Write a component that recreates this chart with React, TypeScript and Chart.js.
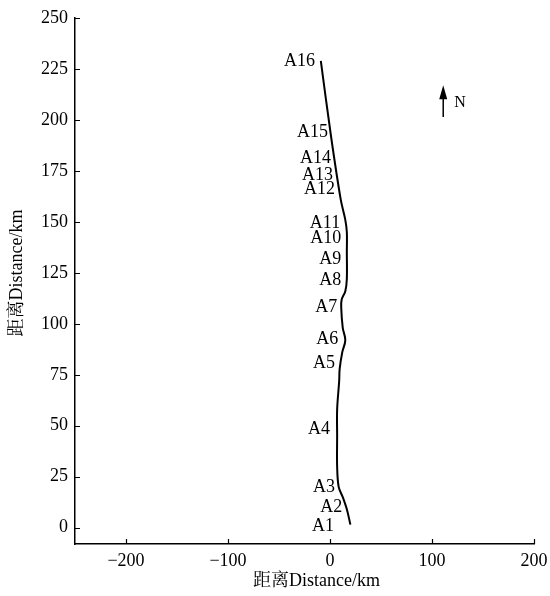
import React, { useEffect, useRef } from "react";
import { Chart, registerables } from "chart.js";

Chart.register(...registerables);

const lineX = [20, 16.5, 12.5, 8.5, 7, 7, 7, 9, 9.5, 12, 15, 12.5, 11, 11.5, 15, 16.5, 16.5, 16.5, 15, 10.5, 1, -9];
const lineY = [1.5, 9, 15, 20, 30, 45, 58, 72, 78, 86, 92, 98, 108, 112, 116, 122, 135, 145, 151, 161, 192, 229];

const stationNames = ["A1", "A2", "A3", "A4", "A5", "A6", "A7", "A8", "A9", "A10", "A11", "A12", "A13", "A14", "A15", "A16"];
const stationLabelX = [4, 12, 5, 0, 5, 8, 7, 11, 11, 11, 10, 5, 3, 1, -2, -14.7];
const stationLabelY = [0.5, 10, 19.6, 48.5, 80.5, 92.6, 108, 121.5, 131.5, 142, 149.5, 166, 173, 181, 194, 229];

const xTicks = [-200, -100, 0, 100, 200];
const yTicks = [0, 25, 50, 75, 100, 125, 150, 175, 200, 225, 250];
const northArrow = { x: 111, yTop: 217, yBottom: 201.5, label: "N" };
const axisTitle = "距离Distance/km";

const FONT = "'Liberation Serif', 'Noto Serif CJK SC', 'Noto Sans CJK SC', serif";
const FS = 18;

export default function App() {
  const ref = useRef<HTMLCanvasElement | null>(null);
  useEffect(() => {
    document.body.style.margin = "0";
    const canvas = ref.current!;
    const overlay = {
      id: "overlay",
      afterDatasetsDraw(chart: any) {
        const ctx = chart.ctx;
        const xs = chart.scales.x;
        const ys = chart.scales.y;
        const area = chart.chartArea;
        ctx.save();
        ctx.strokeStyle = "#000";
        ctx.lineWidth = 1.2;
        ctx.beginPath();
        for (const t of xTicks) {
          const px = Math.round(xs.getPixelForValue(t)) + 0.5;
          ctx.moveTo(px, area.bottom);
          ctx.lineTo(px, area.bottom - 5);
        }
        for (const t of yTicks) {
          const py = Math.round(ys.getPixelForValue(t)) + 0.5;
          ctx.moveTo(area.left, py);
          ctx.lineTo(area.left + 5, py);
        }
        ctx.stroke();
        ctx.fillStyle = "#000";
        ctx.font = `${FS}px ${FONT}`;
        ctx.textAlign = "right";
        ctx.textBaseline = "middle";
        stationNames.forEach((n, i) => {
          ctx.fillText(n, xs.getPixelForValue(stationLabelX[i]), ys.getPixelForValue(stationLabelY[i]));
        });
        // axis titles
        ctx.textAlign = "center";
        ctx.fillText(axisTitle, (area.left + area.right) / 2 + 12, area.bottom + 37);
        ctx.save();
        ctx.translate(17, (area.top + area.bottom) / 2 - 8);
        ctx.rotate(-Math.PI / 2);
        ctx.fillText(axisTitle, 0, 0);
        ctx.restore();
        // north arrow
        const ax = xs.getPixelForValue(northArrow.x);
        const aTop = ys.getPixelForValue(northArrow.yTop);
        const aBot = ys.getPixelForValue(northArrow.yBottom);
        ctx.lineWidth = 1.5;
        ctx.beginPath();
        ctx.moveTo(ax, aBot);
        ctx.lineTo(ax, aTop + 10);
        ctx.stroke();
        ctx.beginPath();
        ctx.moveTo(ax, aTop);
        ctx.lineTo(ax - 4, aTop + 14);
        ctx.lineTo(ax + 4, aTop + 14);
        ctx.closePath();
        ctx.fill();
        ctx.textAlign = "left";
        ctx.font = `16px ${FONT}`;
        ctx.fillText(northArrow.label, ax + 11, (aTop + aBot) / 2 + 2);
        ctx.restore();
      },
    };
    const chart = new Chart(canvas, {
      type: "scatter",
      data: {
        datasets: [
          {
            data: lineX.map((x, i) => ({ x, y: lineY[i] })),
            showLine: true,
            borderColor: "#000",
            borderWidth: 2,
            pointRadius: 0,
            tension: 0.35,
            fill: false,
          },
        ],
      },
      options: {
        animation: false,
        responsive: false,
        maintainAspectRatio: false,
        layout: { padding: { top: 18, right: 16, left: 8, bottom: 0 } },
        plugins: { legend: { display: false }, tooltip: { enabled: false } },
        scales: {
          x: {
            type: "linear",
            min: -250,
            max: 200,
            afterBuildTicks: (s: any) => {
              s.ticks = xTicks.map((v) => ({ value: v }));
            },
            afterFit: (s: any) => {
              s.height = 52;
              s.paddingLeft = 0;
              s.paddingRight = 0;
            },
            grid: { display: true, drawOnChartArea: false, drawTicks: false },
            border: { display: true, color: "#000", width: 1.5 },
            ticks: {
              color: "#000",
              padding: 6,
              font: { family: FONT, size: FS },
              callback: (v: any) => (Number(v) < 0 ? "\u2212" + Math.abs(Number(v)) : String(v)),
            },
            title: { display: false },
          },
          y: {
            type: "linear",
            min: -8,
            max: 250,
            afterBuildTicks: (s: any) => {
              s.ticks = yTicks.map((v) => ({ value: v }));
            },
            afterFit: (s: any) => {
              s.width = 67;
              s.paddingTop = 0;
              s.paddingBottom = 0;
            },
            grid: { display: true, drawOnChartArea: false, drawTicks: false },
            border: { display: true, color: "#000", width: 1.5 },
            ticks: {
              color: "#000",
              padding: 7,
              font: { family: FONT, size: FS },
            },
            title: { display: false },
          },
        },
      },
      plugins: [overlay],
    });
    return () => chart.destroy();
  }, []);
  return <canvas ref={ref} width={550} height={596} style={{ display: "block" }} />;
}
